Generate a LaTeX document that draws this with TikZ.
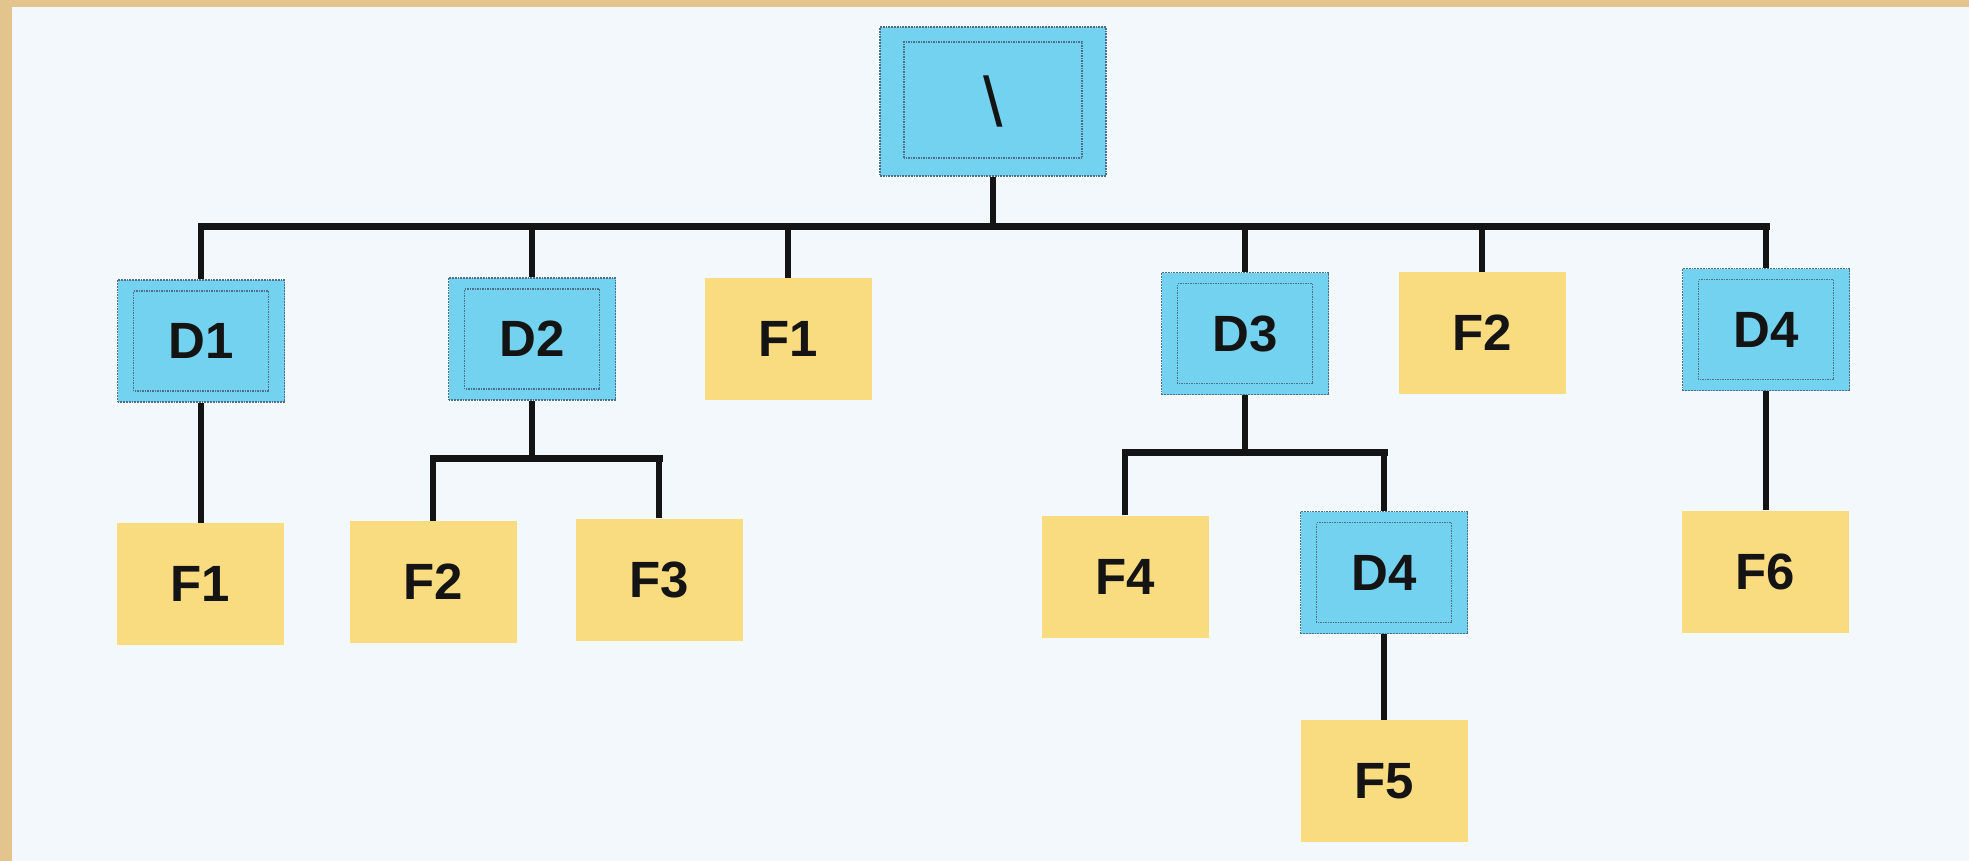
\documentclass[tikz,border=0pt]{standalone}
\usepackage{fontspec}
\setmainfont{Liberation Sans}
\definecolor{bgcol}{HTML}{F2F8FB}
\definecolor{tancol}{HTML}{E3C48C}
\definecolor{dirfill}{HTML}{73D2F0}
\definecolor{dirline}{HTML}{4F6F88}
\definecolor{filefill}{HTML}{F9DB80}
\definecolor{inkcol}{HTML}{141414}
\begin{document}
\begin{tikzpicture}[x=1pt,y=-1pt,
  boxtext/.style={font=\bfseries\fontsize{51}{51}\selectfont, text=inkcol},
  dirbox/.style={boxtext, fill=dirfill, draw=dirline, densely dotted, line width=1.8pt,
    minimum width=167pt, minimum height=122pt, inner sep=0pt,
    path picture={\draw[dirline, densely dotted, line width=1.5pt]
      ([shift={(16pt,11pt)}]path picture bounding box.south west) rectangle
      ([shift={(-16pt,-11pt)}]path picture bounding box.north east);}},
  rootbox/.style={fill=dirfill, draw=dirline, densely dotted, line width=1.8pt,
    minimum width=226pt, minimum height=149pt, inner sep=0pt,
    font=\fontsize{70}{70}\selectfont, text=inkcol,
    path picture={\draw[dirline, densely dotted, line width=1.5pt]
      ([shift={(24pt,18pt)}]path picture bounding box.south west) rectangle
      ([shift={(-24pt,-15pt)}]path picture bounding box.north east);}},
  filebox/.style={boxtext, fill=filefill, minimum width=167pt, minimum height=122pt, inner sep=0pt},
  stem/.style={draw=inkcol, line width=5.5pt},
  bar/.style={draw=inkcol, line width=7pt, line cap=rect}
]
\useasboundingbox (0,0) rectangle (1969,861);
\fill[bgcol] (0,0) rectangle (1969,861);
\fill[tancol] (0,0) rectangle (1969,7);
\fill[tancol] (0,0) rectangle (12,861);

% nodes
\node[rootbox] (root) at (993,101.5) {\textbackslash};
\node[dirbox] (d1) at (201,341) {D1};
\node[dirbox] (d2) at (532,339) {D2};
\node[filebox] (f1a) at (788,339) {F1};
\node[dirbox] (d3) at (1245,333.5) {D3};
\node[filebox] (f2a) at (1482,333) {F2};
\node[dirbox] (d4a) at (1766,329.5) {D4};
\node[filebox] (f1b) at (200,584) {F1};
\node[filebox] (f2b) at (433,582) {F2};
\node[filebox] (f3) at (659,579.5) {F3};
\node[filebox] (f4) at (1125,576.5) {F4};
\node[dirbox] (d4b) at (1384,572.5) {D4};
\node[filebox] (f5) at (1384,781) {F5};
\node[filebox] (f6) at (1765,571.5) {F6};

% bus coordinates
\coordinate (bus) at (0,226);
\coordinate (subtwo) at (0,458);
\coordinate (subthree) at (0,452);

% main level
\foreach \n in {d1,d2,f1a,d3,f2a,d4a}
  \draw[stem] (\n.north) -- (\n.north |- bus);
\draw[stem] (root.south) -- (root.south |- bus);
\draw[bar] (d1.north |- bus) -- (d4a.north |- bus);

% D1 -> F1
\draw[stem] (d1.south) -- (d1.south |- f1b.north);

% D2 -> F2, F3
\draw[stem] (d2.south) -- (d2.south |- subtwo);
\draw[stem] (f2b.north) -- (f2b.north |- subtwo);
\draw[stem] (f3.north) -- (f3.north |- subtwo);
\draw[bar] (f2b.north |- subtwo) -- (f3.north |- subtwo);

% D3 -> F4, D4
\draw[stem] (d3.south) -- (d3.south |- subthree);
\draw[stem] (f4.north) -- (f4.north |- subthree);
\draw[stem] (d4b.north) -- (d4b.north |- subthree);
\draw[bar] (f4.north |- subthree) -- (d4b.north |- subthree);

% D4 -> F5
\draw[stem] (d4b.south) -- (f5.north);

% D4 -> F6
\draw[stem] (d4a.south) -- (d4a.south |- f6.north);
\end{tikzpicture}
\end{document}
